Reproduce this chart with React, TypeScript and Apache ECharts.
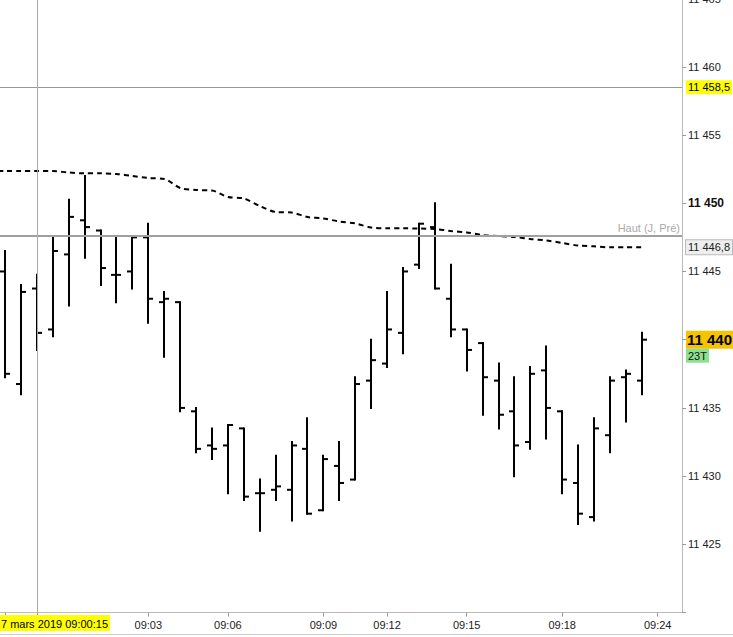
import { useEffect, useRef } from 'react';
import * as echarts from 'echarts';

// barres OHLC (une barre = 23 ticks)
const opens = [11445, 11436.75, 11443.75, 11440.75, 11446.25, 11448.75, 11448, 11444.75, 11445, 11447.5, 11442.75, 11442.75, 11434.75, 11432.25, 11432.25, 11433.5, 11428.75, 11429, 11429, 11432, 11427.5, 11430.75, 11429.75, 11437, 11438.25, 11440.5, 11445.5, 11448.25, 11443, 11440.75, 11439.75, 11437, 11434.75, 11432.5, 11437.75, 11434.75, 11429.5, 11427, 11433, 11437.25, 11437];
const highs = [11446.5, 11444, 11444.75, 11447.5, 11450.25, 11452, 11448, 11447.5, 11447.5, 11448.5, 11443.5, 11442.75, 11435, 11433.5, 11433.75, 11433.5, 11429.75, 11431.5, 11432.5, 11434.25, 11431.5, 11432.5, 11437.25, 11440, 11443.5, 11445.25, 11448.5, 11450, 11445.5, 11440.75, 11439.75, 11438.25, 11437.25, 11438, 11439.5, 11434.75, 11432.25, 11434.25, 11437.25, 11437.75, 11440.5];
const lows = [11437.25, 11436, 11439.25, 11440.25, 11442.5, 11446, 11444, 11442.75, 11443.75, 11441.25, 11438.75, 11434.75, 11431.75, 11431.25, 11428.75, 11428.25, 11426, 11428.25, 11426.75, 11427.25, 11427.5, 11428.25, 11429.75, 11435, 11438, 11439, 11445.25, 11443.75, 11440.25, 11437.75, 11434.5, 11433.5, 11430, 11432, 11432.75, 11428.75, 11426.5, 11426.75, 11431.75, 11434, 11436];
const closes = [11437.5, 11443.5, 11440.5, 11446.5, 11449, 11448.25, 11445.25, 11444.75, 11447.5, 11443, 11443, 11435, 11432, 11432, 11433.75, 11428.5, 11428.75, 11429.25, 11432.25, 11427.25, 11431.25, 11429.5, 11436.75, 11438.5, 11440.75, 11445, 11448.5, 11443.75, 11440.75, 11439.25, 11437.25, 11434.5, 11432.25, 11437.5, 11435, 11429.75, 11427.25, 11433.5, 11437, 11437.5, 11440];

// moyenne mobile (pointillés), commence une barre avant l'écran
const maStart = -1;
const maValues = [
  11452.36, 11452.36, 11452.36, 11452.36, 11452.36, 11452.25, 11452.19, 11452.19, 11452.14, 11452.0,
  11451.85, 11451.78, 11451.12, 11450.97, 11450.93, 11450.46, 11450.35, 11449.8, 11449.36, 11449.32,
  11448.99, 11448.88, 11448.66, 11448.52, 11448.22, 11448.16, 11448.16, 11448.15, 11448.11, 11447.97,
  11447.86, 11447.67, 11447.6, 11447.53, 11447.38, 11447.27, 11447.09, 11446.9, 11446.84, 11446.77,
  11446.77, 11446.77,
];

const timeTicks = [9, 14, 20, 24, 29, 35, 41];
const timeLabels = ['09:03', '09:06', '09:09', '09:12', '09:15', '09:18', '09:24'];
const cursorIdx = 2;
const cursorLabel = '7 mars 2019 09:00:15';
const refLevel = 11458.5;
const prevHigh = 11447.6;
const prevHighLabel = 'Haut (J, Pré)';
const tickCount = '23T';

const FONT = '"Liberation Sans", Arial, sans-serif';

function fmt(v: number, decimals = 0) {
  const [int, dec] = v.toFixed(decimals).split('.');
  const spaced = int.replace(/\B(?=(\d{3})+(?!\d))/g, ' ');
  return dec ? `${spaced},${dec}` : spaced;
}

export default function App() {
  const chartRef = useRef<HTMLDivElement>(null);

  useEffect(() => {
    document.body.style.margin = '0';
    if (!chartRef.current) return;
    const chart = echarts.init(chartRef.current, undefined, { renderer: 'svg' });

    const bars = opens.map((o, i) => [i, o, highs[i], lows[i], closes[i]]);
    const ma = maValues.map((v, k) => [maStart + k, v]);
    const lastClose = closes[closes.length - 1];
    const lastMa = maValues[maValues.length - 1];
    const hidden = { color: 'rgba(0,0,0,0)', width: 0 };

    chart.setOption({
      animation: false,
      textStyle: { fontFamily: FONT },
      grid: { left: 0, right: 51, top: -1.45, bottom: 24.4, outerBoundsMode: 'none', containLabel: false },
      xAxis: {
        type: 'value',
        min: -0.314,
        max: 42.525,
        axisLine: { onZero: false, lineStyle: { color: '#bbb' } },
        axisTick: { length: 4, lineStyle: { color: '#999' }, customValues: [0, cursorIdx, ...timeTicks] },
        axisLabel: {
          customValues: timeTicks,
          formatter: (v: number) => timeLabels[timeTicks.indexOf(Math.round(v))] ?? '',
          fontSize: 11,
          color: '#222',
          margin: 7,
        },
        splitLine: { show: false },
      },
      yAxis: {
        type: 'value',
        position: 'right',
        min: 11420,
        max: 11465,
        interval: 5,
        axisLine: { show: true, onZero: false, lineStyle: { color: '#bbb' } },
        axisTick: { show: true, length: 4, lineStyle: { color: '#999' } },
        axisLabel: {
          fontSize: 11,
          color: '#222',
          margin: 6,
          formatter: (v: number) => {
            if (v === 11420 || v === lastClose) return '';
            if (v === 11450) return `{b|${fmt(v)}}`;
            return fmt(v);
          },
          rich: { b: { fontWeight: 'bold', fontSize: 12, color: '#111' } },
        },
        splitLine: { show: false },
      },
      series: [
        {
          type: 'custom',
          data: bars,
          encode: { x: 0, y: [1, 2, 3, 4] },
          renderItem: (_params: unknown, api: any) => {
            const i = api.value(0);
            const top = api.coord([i, api.value(2)]);
            const bot = api.coord([i, api.value(3)]);
            const o = api.coord([i, api.value(1)]);
            const c = api.coord([i, api.value(4)]);
            const x = Math.round(top[0]);
            const st = { stroke: '#000', lineWidth: 2 };
            return {
              type: 'group',
              children: [
                { type: 'line', shape: { x1: x, y1: top[1] - 1, x2: x, y2: bot[1] + 1 }, style: st },
                { type: 'line', shape: { x1: x - 5, y1: o[1], x2: x, y2: o[1] }, style: st },
                { type: 'line', shape: { x1: x, y1: c[1], x2: x + 5, y2: c[1] }, style: st },
              ],
            };
          },
        },
        {
          type: 'line',
          data: ma,
          showSymbol: false,
          smooth: 0.3,
          lineStyle: { color: '#000', width: 2, type: [5, 4] },
          markLine: {
            silent: true,
            symbol: 'none',
            animation: false,
            data: [
              {
                yAxis: refLevel,
                lineStyle: { color: '#999', width: 1, type: 'solid' },
                label: {
                  position: 'end',
                  distance: 4,
                  formatter: fmt(refLevel, 1),
                  backgroundColor: '#ffff00',
                  color: '#000',
                  fontSize: 11,
                  padding: [2, 2, 1, 2],
                },
              },
              {
                yAxis: prevHigh,
                lineStyle: { color: '#a0a0a0', width: 2, type: 'solid' },
                label: {
                  position: 'insideEndTop',
                  distance: 2,
                  formatter: prevHighLabel,
                  color: '#aaa',
                  fontSize: 11,
                },
              },
              {
                yAxis: lastMa,
                lineStyle: hidden,
                label: {
                  position: 'end',
                  distance: 4,
                  formatter: fmt(lastMa, 1),
                  backgroundColor: '#eeeeee',
                  borderColor: '#bbb',
                  borderWidth: 1,
                  color: '#222',
                  fontSize: 11,
                  padding: [2, 2, 1, 2],
                },
              },
              {
                yAxis: lastClose,
                lineStyle: hidden,
                label: {
                  position: 'end',
                  distance: 4,
                  formatter: `{e| }\n{p|${fmt(lastClose)}}\n{t|${tickCount}}`,
                  rich: {
                    e: { height: 14, lineHeight: 14 },
                    p: {
                      height: 18,
                      lineHeight: 18,
                      fontSize: 15,
                      fontWeight: 'bold',
                      color: '#000',
                      backgroundColor: '#f5c400',
                      padding: [0, 4, 0, 1],
                    },
                    t: {
                      height: 14,
                      lineHeight: 14,
                      fontSize: 11,
                      color: '#111',
                      backgroundColor: '#8ee08e',
                      padding: [0, 2],
                    },
                  },
                },
              },
              {
                xAxis: cursorIdx,
                lineStyle: { color: '#aaa', width: 1, type: 'solid' },
                label: { show: false },
              },
            ],
          },
        },
      ],
      graphic: [
        {
          type: 'line',
          shape: { x1: 0, y1: 634.5, x2: 733, y2: 634.5 },
          style: { stroke: '#ccc', lineWidth: 1 },
          silent: true,
        },
        {
          type: 'text',
          left: 0,
          top: 615,
          style: {
            text: cursorLabel,
            fontSize: 11,
            fontFamily: FONT,
            fill: '#000',
            backgroundColor: '#ffff00',
            padding: [3, 2, 2, 1],
          },
          z: 100,
        },
      ],
    });

    return () => chart.dispose();
  }, []);

  return <div ref={chartRef} style={{ width: 733, height: 637 }} />;
}
